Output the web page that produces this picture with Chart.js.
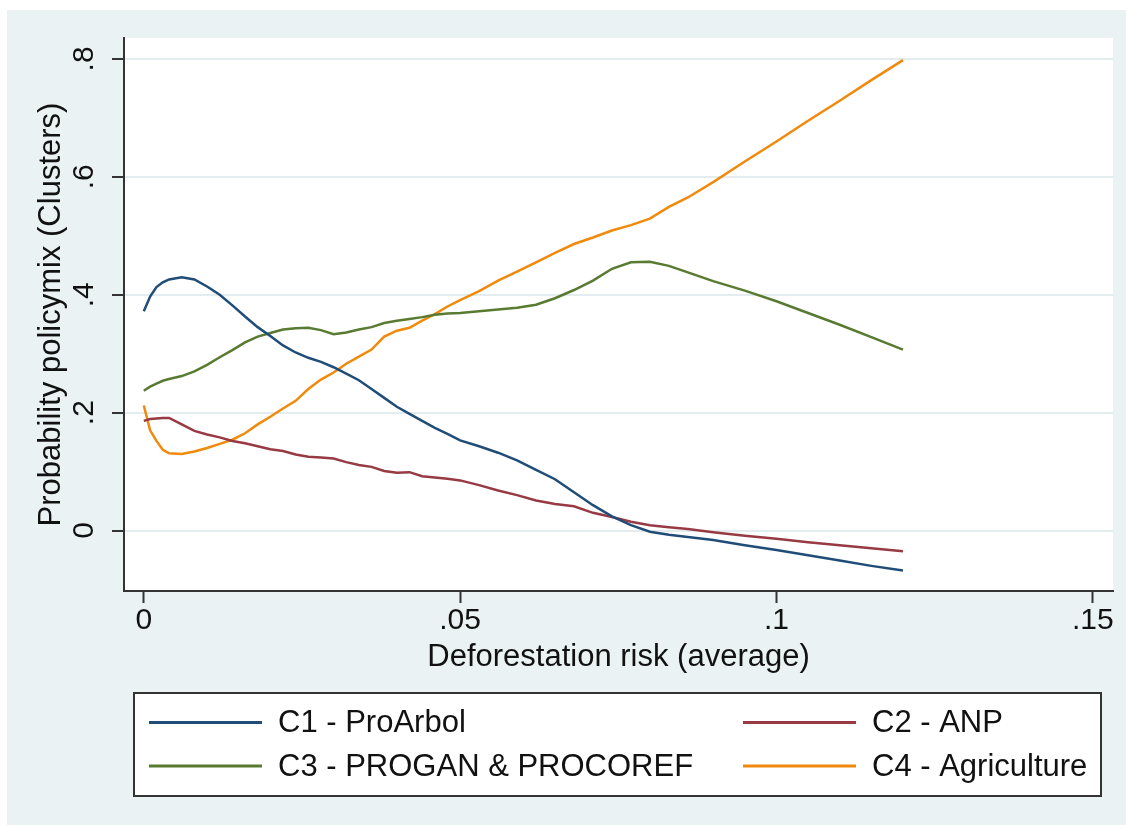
<!DOCTYPE html>
<html>
<head>
<meta charset="utf-8">
<script src="https://cdn.jsdelivr.net/npm/chart.js@4.4.1/dist/chart.umd.min.js"></script>
<style>
  html, body { margin: 0; padding: 0; background: #fff; }
  #wrap { position: relative; width: 1126px; height: 825px; }
</style>
</head>
<body>
<div id="wrap"><canvas id="policy-chart" width="1126" height="825"></canvas></div>
<script>
// deforestation risk (x) shared by all four curves
const riskX = [0, 0.001, 0.002, 0.003, 0.004, 0.006, 0.008, 0.010, 0.012, 0.014, 0.016, 0.018, 0.020,
    0.022, 0.024, 0.026, 0.028, 0.030, 0.032, 0.034, 0.036, 0.038, 0.040, 0.042, 0.044, 0.046, 0.048,
    0.050, 0.053, 0.056, 0.059, 0.062, 0.065, 0.068, 0.071, 0.074, 0.077, 0.080, 0.083, 0.086, 0.090,
    0.095, 0.100, 0.105, 0.110, 0.115, 0.120];

const c1ProArbol = [0.372, 0.397, 0.413, 0.421, 0.426, 0.4295, 0.426, 0.414, 0.400, 0.382, 0.363, 0.345, 0.330,
    0.314, 0.302, 0.293, 0.286, 0.277, 0.266, 0.255, 0.240, 0.225, 0.210, 0.198, 0.186, 0.174, 0.164,
    0.153, 0.143, 0.132, 0.119, 0.103, 0.087, 0.065, 0.043, 0.024, 0.009, -0.002, -0.007, -0.011, -0.016,
    -0.025, -0.033, -0.042, -0.051, -0.060, -0.068];

const c2Anp = [0.186, 0.189, 0.190, 0.191, 0.191, 0.180, 0.169, 0.163, 0.158, 0.152, 0.148, 0.143, 0.138,
    0.135, 0.129, 0.125, 0.124, 0.122, 0.116, 0.111, 0.108, 0.101, 0.098, 0.099, 0.092, 0.090, 0.088,
    0.085, 0.077, 0.068, 0.060, 0.051, 0.045, 0.041, 0.030, 0.023, 0.015, 0.009, 0.0055, 0.0025, -0.003,
    -0.009, -0.014, -0.020, -0.025, -0.030, -0.035];

const c3Progan = [0.237, 0.244, 0.249, 0.254, 0.257, 0.262, 0.270, 0.281, 0.294, 0.306, 0.319, 0.329, 0.335,
    0.341, 0.343, 0.344, 0.340, 0.333, 0.336, 0.341, 0.345, 0.352, 0.356, 0.359, 0.362, 0.366, 0.368,
    0.369, 0.372, 0.375, 0.378, 0.383, 0.394, 0.408, 0.424, 0.444, 0.455, 0.456, 0.449, 0.438, 0.423,
    0.407, 0.389, 0.369, 0.349, 0.328, 0.307];

const c4Agriculture = [0.212, 0.170, 0.152, 0.137, 0.131, 0.130, 0.134, 0.140, 0.147, 0.154, 0.165, 0.180, 0.193,
    0.207, 0.220, 0.240, 0.256, 0.268, 0.283, 0.295, 0.307, 0.329, 0.339, 0.344, 0.356, 0.367, 0.380,
    0.391, 0.406, 0.424, 0.439, 0.455, 0.471, 0.486, 0.497, 0.509, 0.518, 0.529, 0.549, 0.565, 0.591,
    0.626, 0.660, 0.695, 0.729, 0.764, 0.798];

const seriesLabels = ['C1 - ProArbol', 'C2 - ANP', 'C3 - PROGAN & PROCOREF', 'C4 - Agriculture'];
const seriesColors = ['#1f4d78', '#973a43', '#587a31', '#f08a0c'];

const xTicks = [0, 0.05, 0.1, 0.15];
const xTickLabels = ['0', '.05', '.1', '.15'];
const yTicks = [0, 0.2, 0.4, 0.6, 0.8];
const yTickLabels = ['0', '.2', '.4', '.6', '.8'];

const FONT = "'Liberation Sans', Arial, sans-serif";
const axisDark = '#333333';
const gridLight = '#e3ecee';

Chart.defaults.font.family = FONT;
Chart.defaults.color = '#111';

const toPoints = ys => riskX.map((x, i) => ({ x, y: ys[i] }));

// stata-like backdrop: bluish figure region, white plot region
const backdrop = {
    id: 'backdrop',
    beforeDraw(chart) {
        const { ctx, chartArea: a } = chart;
        ctx.save();
        ctx.fillStyle = '#fff';
        ctx.fillRect(0, 0, chart.width, chart.height);
        ctx.fillStyle = '#eaf2f3';
        ctx.fillRect(7, 10, chart.width - 7, chart.height - 10);
        ctx.fillStyle = '#fff';
        ctx.fillRect(a.left, a.top, a.right - a.left, a.bottom - a.top);
        ctx.restore();
    }
};

// boxed two-column legend under the axis title
const boxLegend = {
    id: 'boxLegend',
    afterDraw(chart) {
        const { ctx } = chart;
        ctx.save();
        ctx.fillStyle = '#fff';
        ctx.fillRect(134, 693, 967, 103);
        ctx.strokeStyle = axisDark;
        ctx.lineWidth = 2;
        ctx.strokeRect(134, 693, 967, 103);
        const cols = [149, 743];
        const rows = [722.5, 766];
        ctx.font = '31px ' + FONT;
        ctx.textBaseline = 'middle';
        chart.data.datasets.forEach((ds, i) => {
            const x = cols[i % 2];
            const y = rows[Math.floor(i / 2)];
            ctx.strokeStyle = ds.borderColor;
            ctx.lineWidth = 3;
            ctx.beginPath();
            ctx.moveTo(x, y);
            ctx.lineTo(x + 113, y);
            ctx.stroke();
            ctx.fillStyle = '#111';
            ctx.fillText(ds.label, x + 129, y + 1);
        });
        ctx.restore();
    }
};

new Chart(document.getElementById('policy-chart'), {
    type: 'line',
    data: {
        datasets: [c1ProArbol, c2Anp, c3Progan, c4Agriculture].map((ys, i) => ({
            label: seriesLabels[i],
            data: toPoints(ys),
            borderColor: seriesColors[i],
            backgroundColor: seriesColors[i],
            borderWidth: 2.5,
            pointRadius: 0,
            tension: 0,
            fill: false
        }))
    },
    options: {
        responsive: false,
        animation: false,
        devicePixelRatio: 1,
        layout: { padding: { left: 7, top: 38, right: 13, bottom: 149 } },
        plugins: {
            legend: { display: false },
            tooltip: { enabled: false }
        },
        scales: {
            x: {
                type: 'linear',
                position: 'bottom',
                bounds: 'data',
                min: -0.00313,
                max: 0.1532,
                afterBuildTicks: s => { s.ticks = xTicks.map(v => ({ value: v })); },
                afterFit: s => { s.height = 85; },
                ticks: {
                    autoSkip: false,
                    maxRotation: 0,
                    padding: 0,
                    color: '#111',
                    font: { size: 30 },
                    callback: (v, i) => xTickLabels[i]
                },
                grid: {
                    drawOnChartArea: false,
                    tickLength: 12,
                    tickColor: axisDark,
                    tickWidth: 2
                },
                border: { color: axisDark, width: 2 },
                title: {
                    display: true,
                    text: 'Deforestation risk (average)',
                    color: '#111',
                    font: { size: 31 },
                    padding: { top: 0, bottom: 0 }
                }
            },
            y: {
                type: 'linear',
                position: 'left',
                bounds: 'data',
                min: -0.1026,
                max: 0.8355,
                afterBuildTicks: s => { s.ticks = yTicks.map(v => ({ value: v })); },
                afterFit: s => { s.width = 117; },
                ticks: {
                    autoSkip: false,
                    minRotation: 90,
                    maxRotation: 90,
                    crossAlign: 'center',
                    padding: 15,
                    color: '#111',
                    font: { size: 30 },
                    callback: (v, i) => yTickLabels[i]
                },
                grid: {
                    color: gridLight,
                    lineWidth: 2,
                    tickLength: 12,
                    tickColor: axisDark,
                    tickWidth: 2
                },
                border: { color: axisDark, width: 2 },
                title: {
                    display: true,
                    text: 'Probability policymix (Clusters)',
                    color: '#111',
                    font: { size: 31 },
                    padding: { top: 26, bottom: 0 }
                }
            }
        }
    },
    plugins: [backdrop, boxLegend]
});
</script>
</body>
</html>
